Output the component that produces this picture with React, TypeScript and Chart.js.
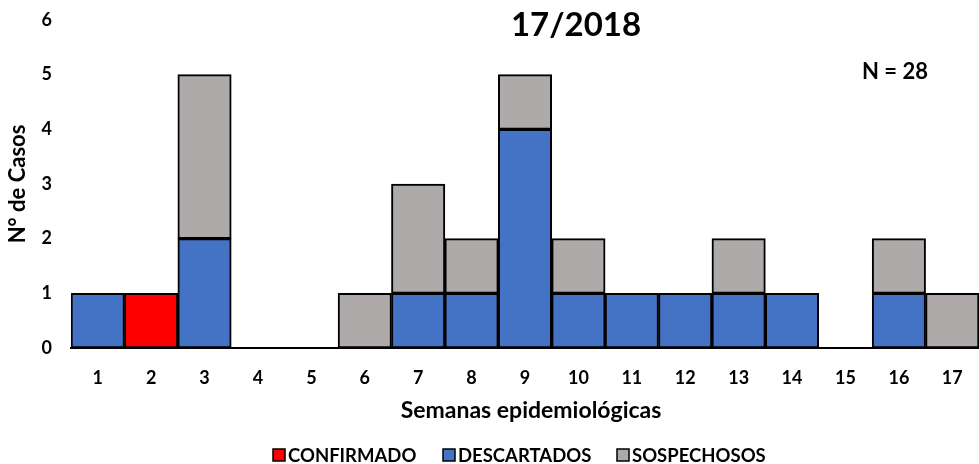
import React, { useEffect, useRef } from "react";
import { Chart, registerables } from "chart.js";

Chart.register(...registerables);

const weeks = ["1", "2", "3", "4", "5", "6", "7", "8", "9", "10", "11", "12", "13", "14", "15", "16", "17"];
const confirmado = [null, 1, null, null, null, null, null, null, null, null, null, null, null, null, null, null, null];
const descartados = [1, null, 2, null, null, null, 1, 1, 4, 1, 1, 1, 1, 1, null, 1, null];
const sospechosos = [null, null, 3, null, null, 1, 2, 1, 1, 1, null, null, 1, null, null, 1, 1];
const yTicks = [0, 1, 2, 3, 4, 5, 6];

const titleText = "17/2018";
const nText = "N = 28";
const xTitle = "Semanas epidemiológicas";
const yTitle = "N° de Casos";
const legendLabels = ["CONFIRMADO", "DESCARTADOS", "SOSPECHOSOS"];
const colors = ["#FF0000", "#4472C4", "#AEAAAA"];

const FONT = "Lato, 'Open Sans', sans-serif";

const textPlugin = {
  id: "textPlugin",
  afterDraw(chart: any) {
    const ctx = chart.ctx;
    ctx.save();
    ctx.fillStyle = "#000";
    ctx.textBaseline = "middle";
    ctx.textAlign = "center";
    ctx.font = `bold 33px ${FONT}`;
    ctx.fillText(titleText, 576, 25);
    ctx.font = `bold 22px ${FONT}`;
    ctx.fillText(nText, 895, 72);
    ctx.font = `bold 23px ${FONT}`;
    ctx.fillText(xTitle, 531, 411);
    ctx.save();
    ctx.translate(18, 184);
    ctx.rotate(-Math.PI / 2);
    ctx.font = `bold 22px ${FONT}`;
    ctx.fillText(yTitle, 0, 0);
    ctx.restore();
    // legend
    ctx.font = `bold 18.5px ${FONT}`;
    ctx.textAlign = "left";
    const boxX = [273, 443, 617];
    const yc = 455;
    legendLabels.forEach((lab, i) => {
      ctx.fillStyle = colors[i];
      ctx.fillRect(boxX[i], yc - 6, 12, 12);
      ctx.strokeStyle = "#000";
      ctx.lineWidth = 1.5;
      ctx.strokeRect(boxX[i], yc - 6, 12, 12);
      ctx.fillStyle = "#000";
      ctx.fillText(lab, boxX[i] + 15, yc + 1);
    });
    ctx.restore();
  },
};

export default function App() {
  const ref = useRef<HTMLCanvasElement>(null);
  useEffect(() => {
    if (!ref.current) return;
    document.body.style.margin = "0";
    document.body.style.overflow = "hidden";
    const ds = (label: string, data: any[], color: string) => ({
      label,
      data,
      backgroundColor: color,
      borderColor: "#000",
      borderWidth: 2,
      borderSkipped: false,
      barPercentage: 1,
      categoryPercentage: 1,
    });
    const chart = new Chart(ref.current, {
      type: "bar",
      data: {
        labels: weeks,
        datasets: [
          ds(legendLabels[0], confirmado, colors[0]),
          ds(legendLabels[1], descartados, colors[1]),
          ds(legendLabels[2], sospechosos, colors[2]),
        ],
      },
      options: {
        animation: false,
        responsive: false,
        layout: { padding: { top: 20, right: 0, left: 0, bottom: 0 } },
        plugins: { legend: { display: false }, title: { display: false }, tooltip: { enabled: false } },
        scales: {
          x: {
            stacked: true,
            grid: { display: false, drawTicks: false },
            border: { display: true, color: "#000", width: 2 },
            ticks: { color: "#000", font: { family: FONT, weight: "bold", size: 18 }, padding: 19 },
            afterFit: (s: any) => { s.height = 116; s.paddingLeft = 0; s.paddingRight = 0; },
          },
          y: {
            stacked: true,
            min: 0,
            max: 6,
            grid: { display: false, drawTicks: false },
            border: { display: false },
            afterBuildTicks: (s: any) => { s.ticks = yTicks.map((v) => ({ value: v })); },
            ticks: { color: "#000", font: { family: FONT, weight: "bold", size: 18 }, padding: 19 },
            afterFit: (s: any) => { s.width = 71; s.paddingTop = 0; s.paddingBottom = 0; },
          },
        },
      },
      plugins: [textPlugin],
    });
    return () => chart.destroy();
  }, []);
  return (
    <div style={{ width: 979, height: 464 }}>
      <canvas ref={ref} width={979} height={464} style={{ display: "block" }} />
    </div>
  );
}
